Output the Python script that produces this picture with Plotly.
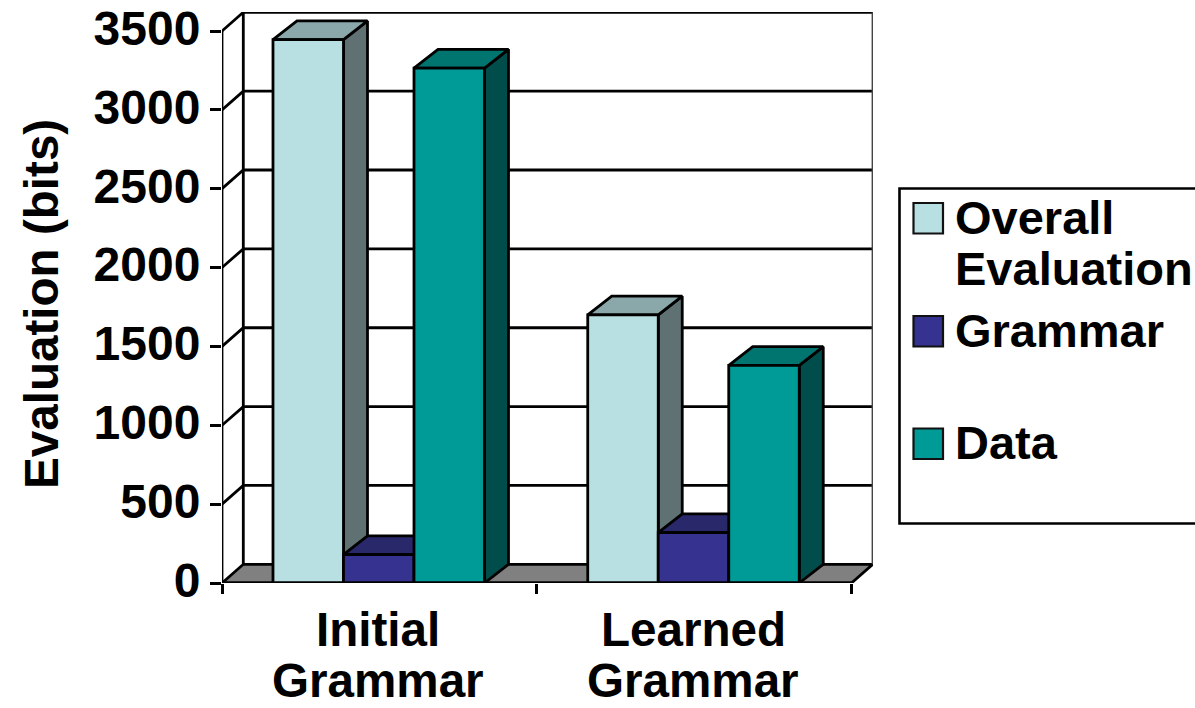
import plotly.graph_objects as go

# Chart values
categories = [["Initial", "Grammar"], ["Learned", "Grammar"]]
overall = [3445, 1700]
grammar = [180, 320]
data_bits = [3265, 1380]
y_ticks = [0, 500, 1000, 1500, 2000, 2500, 3000, 3500]

series = [
    ("Overall Evaluation", overall, "#B8E0E2", "#8AA8A9", "#5F7172"),
    ("Grammar", grammar, "#35338F", "#28286B", "#1F1F55"),
    ("Data", data_bits, "#009B96", "#007570", "#004D4B"),
]

# Canvas and plot frame, in pixels
W, H = 1195, 708
L, R, T, B = 222, 322, 12, 125
plot_w, plot_h = W - L - R, H - T - B
PX_PER_CAT = 314.75
PX_PER_UNIT = 552 / 3500
x_max = plot_w / PX_PER_CAT
y_max = plot_h / PX_PER_UNIT

# Oblique projection offsets for the walls and for the bars
wall_dx, wall_dy = 21.3 / PX_PER_CAT, 18.7 / PX_PER_UNIT
bar_dx, bar_dy = 24 / PX_PER_CAT, 18.7 / PX_PER_UNIT
gap = 0.162
bar_w = 0.224
LW = 2.8
FONT = "Liberation Sans"
TEXT = 47.6

fig = go.Figure()


def poly(xs, ys, fill=None, color="black", width=LW, name=None):
    fig.add_trace(go.Scatter(
        x=xs, y=ys, mode="lines", name=name, showlegend=False, hoverinfo="skip",
        cliponaxis=False,
        line=dict(color=color, width=width, simplify=False),
        fill="toself" if fill else "none", fillcolor=fill,
    ))


# Floor
poly([0, 2, 2 + wall_dx, wall_dx, 0], [0, 0, wall_dy, wall_dy, 0], fill="#808080")

# Gridlines run across the left wall and along the back wall
for v in y_ticks[1:]:
    poly([0, wall_dx, x_max], [v, v + wall_dy, v + wall_dy])

# Wall edges
poly([wall_dx, wall_dx], [wall_dy, y_ticks[-1] + wall_dy])
poly([x_max, x_max], [wall_dy, y_ticks[-1] + wall_dy], color="#444444")

# Bars, painted left to right so nearer faces cover earlier ones
for c in range(len(categories)):
    for s, (name, values, front, top, side) in enumerate(series):
        v = values[c]
        x0 = c + gap + s * bar_w
        x1 = x0 + bar_w
        poly([x1, x1 + bar_dx, x1 + bar_dx, x1, x1],
             [0, bar_dy, v + bar_dy, v, 0], fill=side, name=name)
        poly([x0, x1, x1 + bar_dx, x0 + bar_dx, x0],
             [v, v, v + bar_dy, v + bar_dy, v], fill=top, name=name)
        poly([x0, x1, x1, x0, x0], [0, 0, v, v, 0], fill=front, name=name)

# Front axis lines
poly([0, 0], [0, y_ticks[-1]])
poly([0, 2], [0, 0])


def px_x(p):
    return (p - L) / plot_w


def px_y(p):
    return 1 - (p - T) / plot_h


def label(text, x, y, size=TEXT, **kw):
    return dict(text=text, xref="paper", yref="paper", x=x, y=y,
                yanchor="middle", showarrow=False,
                font=dict(family=FONT, size=size, color="black", weight="bold"), **kw)


shapes = [dict(type="rect", xref="paper", yref="paper",
               x0=px_x(899.5), x1=px_x(1205), y0=px_y(188.5), y1=px_y(523.5),
               line=dict(color="black", width=2.6), fillcolor="white")]
annotations = []

# Legend swatches and labels
swatches = [(203, "#B8E0E2"), (316, "#35338F"), (428.5, "#009B96")]
for top_px, color in swatches:
    shapes.append(dict(type="rect", xref="paper", yref="paper",
                       x0=px_x(913.5), x1=px_x(943), y0=px_y(top_px), y1=px_y(top_px + 30.5),
                       line=dict(color="#111111", width=2.2), fillcolor=color))

legend_lines = [("Overall", 218), ("Evaluation", 268), ("Grammar", 330), ("Data", 442)]
for text, mid in legend_lines:
    annotations.append(label(text, px_x(953), px_y(mid), size=47, xanchor="left"))

# Category labels under each group
for c, lines in enumerate(categories):
    cx = (c + 0.5) / x_max - 1 / plot_w
    annotations.append(label(lines[0], cx, px_y(629), xanchor="center"))
    annotations.append(label(lines[1], cx, px_y(680), xanchor="center"))

annotations.append(label("Evaluation (bits)", px_x(41), px_y(304),
                         xanchor="center", textangle=-90))

fig.update_layout(
    width=W, height=H, margin=dict(l=L, r=R, t=T, b=B, autoexpand=False),
    paper_bgcolor="white", plot_bgcolor="white", showlegend=False,
    font=dict(family=FONT, size=TEXT, color="black"),
    shapes=shapes, annotations=annotations,
    xaxis=dict(
        range=[0, x_max], showgrid=False, zeroline=False, showline=False,
        tickmode="array", tickvals=[0, 1, 2], ticktext=["", "", ""],
        ticks="outside", ticklen=10, tickwidth=2.8, tickcolor="black",
    ),
    yaxis=dict(
        range=[0, y_max], showgrid=False, zeroline=False, showline=False,
        tickmode="array", tickvals=y_ticks, ticks="outside", ticklen=11,
        tickwidth=2.8, tickcolor="black", ticklabelshift=-3,
        tickfont=dict(family=FONT, size=48, color="black", weight="bold"),
    ),
)

fig.write_html("out.html")
